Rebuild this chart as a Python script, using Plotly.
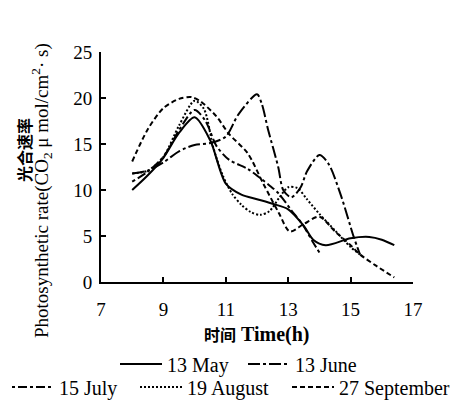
import plotly.graph_objects as go

# Diurnal photosynthetic rate, five sampling dates
may_t = [8, 8.5, 9, 9.5, 10, 10.5, 11, 11.5, 12, 12.5, 13, 13.5, 13.8, 14.2, 15, 15.6, 16, 16.4]
may_v = [10.0, 11.6, 13.5, 16.2, 17.9, 15.4, 10.7, 9.5, 9.0, 8.5, 7.9, 6.1, 4.6, 4.0, 4.75, 4.9, 4.6, 4.0]

june_t = [8, 8.5, 9, 9.5, 10, 10.5, 11, 11.4, 12, 12.15, 12.36, 12.68, 12.84, 13.1, 13.4, 13.6, 14, 14.3, 14.7, 15.1, 15.3]
june_v = [11.8, 12.1, 13.0, 14.2, 14.9, 15.1, 15.8, 18.2, 20.4, 19.4, 16.5, 12.5, 10.0, 9.2, 10.3, 12.0, 13.8, 12.8, 9.3, 4.9, 3.0]

july_t = [8, 8.5, 9, 9.5, 10, 10.35, 10.7, 11.1, 11.7, 12.1, 12.4, 12.7, 13.1, 13.45, 13.8, 14.0]
july_v = [10.9, 12.0, 13.6, 16.5, 18.7, 17.5, 14.8, 13.3, 12.3, 11.3, 10.5, 9.6, 7.8, 6.3, 4.3, 3.2]

aug_t = [8, 8.5, 9, 9.5, 10, 10.3, 10.6, 10.9, 11.2, 11.5, 11.8, 12.1, 12.4, 12.7, 13.0, 13.3, 13.6, 14.0, 14.5, 15.0, 15.3]
aug_v = [11.8, 12.1, 13.6, 17.0, 19.7, 18.8, 14.6, 11.6, 9.6, 8.4, 7.6, 7.3, 7.7, 9.1, 10.3, 10.2, 9.0, 7.4, 5.6, 3.8, 3.0]

sep_t = [8, 8.5, 9, 9.5, 9.9, 10.2, 10.7, 11.1, 11.7, 12.2, 12.7, 13.05, 13.5, 14.0, 14.5, 15.0, 15.3, 15.8, 16.4]
sep_v = [13.1, 16.6, 18.9, 19.9, 20.1, 19.6, 18.0, 16.1, 14.0, 10.7, 7.5, 5.5, 6.3, 7.1, 5.5, 4.0, 3.0, 1.8, 0.5]

x_ticks = [7, 9, 11, 13, 15, 17]
y_ticks = [0, 5, 10, 15, 20, 25]

SERIF = "Liberation Serif, Times New Roman, Noto Sans CJK SC, serif"
CJK = "Noto Sans CJK SC"

# plot box in pixels: x 101..413, y 52..282
L, R, T, B, W, H = 101, 413, 52, 282, 471, 406
def px(xp):
    return (xp - L) / (R - L)
def py(yp):
    return (B - yp) / (B - T)

# name, times, values, dash, legend id, legend box (left px, centre y px)
series = [
    ("13 May", may_t, may_v, "solid", "legend", (115, 364)),
    ("13 June", june_t, june_v, "12px,3px,3px,3px", "legend2", (243, 364)),
    ("15 July", july_t, july_v, "3px,3px,9px,3px", "legend3", (7, 387)),
    ("19 August", aug_t, aug_v, "2px,2px", "legend4", (135, 387)),
    ("27 September", sep_t, sep_v, "5px,3px", "legend5", (287, 387)),
]

fig = go.Figure()
legends = {}
for name, t, v, dash, leg, (lx, ly) in series:
    fig.add_trace(go.Scatter(
        x=t, y=v, name=name, mode="lines", showlegend=True,
        line=dict(color="black", width=2, dash=dash, shape="spline", smoothing=0.8),
        legend=leg,
    ))
    legends[leg] = dict(orientation="h", x=px(lx), xanchor="left", y=py(ly), yanchor="middle",
                        font=dict(family=SERIF, size=20, color="black"), itemwidth=42,
                        bgcolor="rgba(0,0,0,0)", borderwidth=0)

axis_common = dict(
    showline=True, linecolor="black", linewidth=2,
    ticks="inside", ticklen=5, tickwidth=2, tickcolor="black",
    showgrid=False, zeroline=False,
    tickfont=dict(family=SERIF, size=19, color="black"),
)

fig.update_layout(
    width=W, height=H, showlegend=True,
    margin=dict(l=L, r=W - R, t=T, b=H - B, autoexpand=False),
    paper_bgcolor="white", plot_bgcolor="white",
    font=dict(family=SERIF, size=16, color="black"),
    xaxis=dict(range=[7, 17], tickvals=x_ticks, ticktext=[str(v) for v in x_ticks],
               ticklabelstandoff=9, **axis_common),
    yaxis=dict(range=[0, 25], tickvals=y_ticks, ticktext=[str(v) for v in y_ticks],
               ticklabelstandoff=3, **axis_common),
    annotations=[
        dict(text="<b><span style='font-family:Noto Sans CJK SC;font-size:16px'>时间</span> Time(h)</b>",
             xref="paper", yref="paper", x=px(257), y=py(334),
             xanchor="center", yanchor="middle", showarrow=False,
             font=dict(family=SERIF, size=20)),
        dict(text="<b>光合速率</b>", xref="paper", yref="paper", x=px(24), y=py(150),
             xanchor="center", yanchor="middle", textangle=-90, showarrow=False,
             font=dict(family=CJK, size=16)),
        dict(text="Photosynthetic rate(CO<sub>2</sub> μ mol/cm<sup>2</sup>· s)",
             xref="paper", yref="paper", x=px(41), y=py(191),
             xanchor="center", yanchor="middle", textangle=-90, showarrow=False,
             font=dict(family=SERIF, size=19)),
    ],
    **legends,
)

fig.write_html("out.html")
